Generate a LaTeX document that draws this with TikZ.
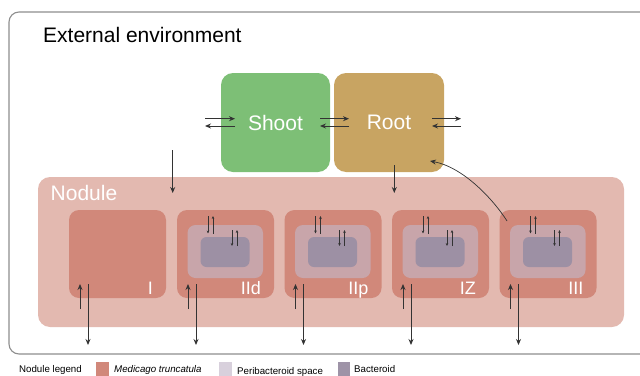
\documentclass[tikz,border=0pt]{standalone}
\usepackage{fontspec}
\setmainfont{Liberation Sans}
\usetikzlibrary{arrows.meta,calc}

\definecolor{framegray}{HTML}{8E8E8E}
\definecolor{shootgreen}{HTML}{7DBF76}
\definecolor{rootbrown}{HTML}{C8A462}
\definecolor{nodulebg}{HTML}{E3B9B0}
\definecolor{medicago}{HTML}{D1887A}
\definecolor{periin}{HTML}{C8A5AA}
\definecolor{bactin}{HTML}{9D90A4}
\definecolor{perileg}{HTML}{D8D0DC}
\definecolor{bactleg}{HTML}{9E93A7}
\definecolor{arrowgray}{HTML}{333333}

\tikzset{
  plantbox/.style={rounded corners=12pt, minimum width=109pt, minimum height=99pt,
    inner sep=0pt, text=white, font=\fontsize{21}{24}\selectfont},
  cellbox/.style={fill=medicago, rounded corners=10pt, minimum width=97pt,
    minimum height=88pt, inner sep=0pt},
  peribox/.style={fill=periin, rounded corners=8pt, minimum width=75.5pt,
    minimum height=53pt, inner sep=0pt},
  bactbox/.style={fill=bactin, rounded corners=6pt, minimum width=49pt,
    minimum height=30pt, inner sep=0pt},
  zonelabel/.style={anchor=base east, text=white, inner sep=0pt,
    font=\fontsize{18}{21}\selectfont},
  flow/.style={draw=arrowgray, line width=0.9pt,
    -{Stealth[length=6pt,width=5pt]}},
  smallflow/.style={draw=arrowgray, line width=0.8pt,
    -{Stealth[length=3pt,width=2.6pt]}},
  legsq/.style={minimum width=13pt, minimum height=14pt, inner sep=0pt, anchor=north west},
  legtext/.style={anchor=base west, inner sep=0pt, font=\fontsize{9.7}{11}\selectfont},
}

\begin{document}
\begin{tikzpicture}[x=1pt, y=-1pt]
\useasboundingbox (0,0) rectangle (640,375);
\clip (0,0) rectangle (640,375);

% outer frame for the external environment
\draw[framegray, line width=1.1pt, rounded corners=10pt] (9,12) rectangle (690,354);
\node[anchor=base west, inner sep=0pt, font=\fontsize{21}{24}\selectfont]
  (env) at (43,42.7) {External environment};

% plant organs
\node[plantbox, fill=shootgreen] (shoot) at (275.5,122.5) {Shoot};
\node[plantbox, fill=rootbrown, minimum width=110pt] (root) at (389,122.5) {Root};

% nodule with its five zones
\node[fill=nodulebg, rounded corners=12pt, minimum width=586pt, minimum height=150pt,
  inner sep=0pt] (nodule) at (331,252) {};
\node[anchor=base west, inner sep=0pt, text=white, font=\fontsize{21}{24}\selectfont]
  (nodlabel) at (50.5,200.7) {Nodule};

\foreach \k/\L/\lab in {1/69/I, 2/177/IId, 3/284.5/IIp, 4/392/IZ, 5/499.5/III} {
  \node[cellbox] (m\k) at (\L+48.5,254) {};
  \node[zonelabel] (lab\k) at (\L+84,294) {\lab};
  % exchange across the nodule surface
  \coordinate (upa\k) at (\L+11,309);
  \coordinate (upb\k) at (\L+11,284);
  \coordinate (dna\k) at (\L+19,284);
  \coordinate (dnb\k) at (\L+19,345);
  \draw[flow] (upa\k) -- (upb\k);
  \draw[flow] (dna\k) -- (dnb\k);
}

\foreach \k/\L in {2/177, 3/284.5, 4/392, 5/499.5} {
  \node[peribox] (p\k) at (\L+48.25,251.5) {};
  \node[bactbox] (b\k) at (\L+48,252) {};
  % plant cell <-> peribacteroid space
  \coordinate (s1\k) at (\L+31,216);
  \coordinate (e1\k) at (\L+31,233.5);
  \coordinate (s2\k) at (\L+36,233.5);
  \coordinate (e2\k) at (\L+36,216);
  \draw[smallflow] (s1\k) -- (e1\k);
  \draw[smallflow] (s2\k) -- (e2\k);
  % peribacteroid space <-> bacteroid
  \coordinate (s3\k) at (\L+55,230);
  \coordinate (e3\k) at (\L+55,246);
  \coordinate (s4\k) at (\L+60,246);
  \coordinate (e4\k) at (\L+60,230);
  \draw[smallflow] (s3\k) -- (e3\k);
  \draw[smallflow] (s4\k) -- (e4\k);
}

% exchange between environment, shoot and root
\coordinate (ls1) at (205,118.7); \coordinate (ls2) at (235,118.7);
\coordinate (ls3) at (235,126);   \coordinate (ls4) at (205,126);
\coordinate (sr1) at (320,118.7); \coordinate (sr2) at (349,118.7);
\coordinate (sr3) at (349,126);   \coordinate (sr4) at (320,126);
\coordinate (rr1) at (432,118.7); \coordinate (rr2) at (461,118.7);
\coordinate (rr3) at (461,126);   \coordinate (rr4) at (432,126);
\draw[flow] (ls1) -- (ls2);
\draw[flow] (ls3) -- (ls4);
\draw[flow] (sr1) -- (sr2);
\draw[flow] (sr3) -- (sr4);
\draw[flow] (rr1) -- (rr2);
\draw[flow] (rr3) -- (rr4);

% inputs into the nodule
\coordinate (envdown) at (172.7,150);
\coordinate (nodin1) at (172.7,193);
\coordinate (rootdown) at (394.3,165);
\coordinate (nodin2) at (394.3,193);
\draw[flow] (envdown) -- (nodin1);
\draw[flow] (rootdown) -- (nodin2);

% export from zone III back to the root
\coordinate (zoneout) at (507,221);
\coordinate (rootin) at (430,161);
\draw[draw=arrowgray, line width=0.7pt, -{Stealth[length=6pt,width=5pt]}]
  (zoneout) .. controls (493,199) and (463,167) .. (rootin);

% legend
\node[legtext] (leg0) at (19,372.5) {Nodule legend};
\node[legsq, fill=medicago] (sq1) at (96,362) {};
\node[legtext] (leg1) at (114,372.5) {\itshape Medicago truncatula};
\node[legsq, fill=perileg] (sq2) at (219,362) {};
\node[legtext] (leg2) at (237,374.3) {Peribacteroid space};
\node[legsq, fill=bactleg, minimum width=12pt] (sq3) at (337.5,362) {};
\node[legtext] (leg3) at (354,372.5) {Bacteroid};
\end{tikzpicture}
\end{document}
